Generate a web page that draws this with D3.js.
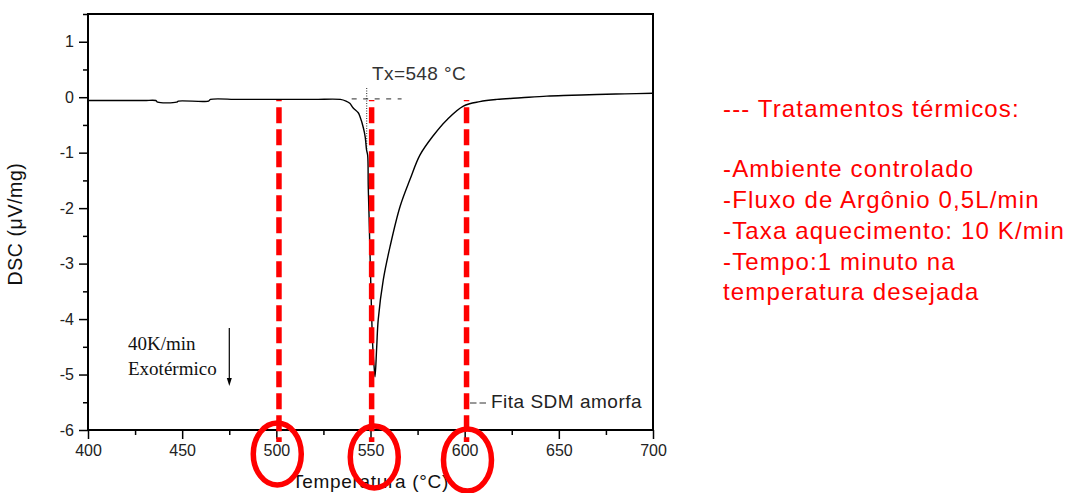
<!DOCTYPE html>
<html>
<head>
<meta charset="utf-8">
<script src="https://cdn.jsdelivr.net/npm/d3@7/dist/d3.min.js"></script>
<style>
  html, body { margin: 0; padding: 0; background: #fff; }
  svg { display: block; }
</style>
</head>
<body>
<svg id="chart" width="1073" height="493" font-family="Liberation Sans, Arial, sans-serif"></svg>
<script>
// DSC scan of the amorphous ribbon (temperature in °C, signal in µV/mg)
const temperature = [400, 410, 420, 430, 436, 437, 447, 448, 464, 465, 480, 500, 520, 534, 537, 539,
  540.7, 543.5, 544.4, 546.2, 547.2, 547.9, 548.5, 548.8, 549.2, 549.8, 550.5, 551.2, 551.9, 552.4,
  553.3, 554.1, 556.8, 560.4, 565.7, 571, 576.3, 583.4, 590.5, 599.3, 608, 617, 630, 643.6, 657,
  670.1, 685, 700];
const dsc = [-0.06, -0.06, -0.06, -0.06, -0.06, -0.09, -0.09, -0.07, -0.07, -0.04, -0.04, -0.04, -0.04, -0.04, -0.07, -0.11,
  -0.19, -0.28, -0.35, -0.55, -0.72, -0.95, -1.05, -1.6, -2.1, -2.9, -3.8, -4.5, -4.85, -5.04,
  -4.5, -4.01, -3.29, -2.69, -1.97, -1.48, -1.04, -0.69, -0.41, -0.16, -0.08, -0.04, -0.01, 0.02, 0.035,
  0.05, 0.06, 0.07];

const xTicks = [400, 450, 500, 550, 600, 650, 700];
const yTicks = [-6, -5, -4, -3, -2, -1, 0, 1];

// Heat-treatment temperatures marked on the curve
const treatmentTemps = [501.4, 550.6, 601.0];
const treatmentLabels = [500, 550, 600];
const onsetTemp = 548;

const notes = [
  "--- Tratamentos térmicos:",
  "",
  "-Ambiente controlado",
  "-Fluxo de Argônio 0,5L/min",
  "-Taxa aquecimento: 10 K/min",
  "-Tempo:1 minuto na",
  "temperatura desejada"
];

const svg = d3.select("#chart");
const W = 1073, H = 493;
svg.append("rect").attr("width", W).attr("height", H).attr("fill", "#fff");

const plotL = 88, plotR = 653, plotT = 14, plotB = 430;
const x = d3.scaleLinear().domain([400, 700]).range([plotL, plotR]);
const y = d3.scaleLinear().domain([-6, 1.5]).range([plotB, plotT]);

// minor ticks
const xMinor = d3.range(400, 701, 25).filter(v => !xTicks.includes(v));
const yMinor = d3.range(-6, 1.51, 0.5).filter(v => !yTicks.includes(v));

svg.append("g")
  .attr("transform", `translate(0,${plotB})`)
  .call(d3.axisBottom(x).tickValues(xMinor).tickSize(5).tickSizeOuter(0).tickFormat(""))
  .call(g => g.select(".domain").remove())
  .call(g => g.selectAll("line").attr("stroke", "#000").attr("stroke-width", 1.5));

svg.append("g")
  .attr("transform", `translate(${plotL},0)`)
  .call(d3.axisLeft(y).tickValues(yMinor).tickSize(5).tickSizeOuter(0).tickFormat(""))
  .call(g => g.select(".domain").remove())
  .call(g => g.selectAll("line").attr("stroke", "#000").attr("stroke-width", 1.5));

const xAxis = svg.append("g")
  .attr("transform", `translate(0,${plotB})`)
  .call(d3.axisBottom(x).tickValues(xTicks).tickSize(9).tickSizeOuter(0).tickPadding(6).tickFormat(d => String(d)));
xAxis.select(".domain").remove();
xAxis.selectAll("line").attr("stroke", "#000").attr("stroke-width", 1.5);
xAxis.selectAll("text").attr("font-size", 16).attr("fill", "#222")
  .attr("font-family", "Liberation Sans, Arial, sans-serif");

const yAxis = svg.append("g")
  .attr("transform", `translate(${plotL},0)`)
  .call(d3.axisLeft(y).tickValues(yTicks).tickSize(9).tickSizeOuter(0).tickPadding(5).tickFormat(d => String(d)));
yAxis.select(".domain").remove();
yAxis.selectAll("line").attr("stroke", "#000").attr("stroke-width", 1.5);
yAxis.selectAll("text").attr("font-size", 16).attr("fill", "#222")
  .attr("font-family", "Liberation Sans, Arial, sans-serif");

// plot frame
svg.append("rect")
  .attr("x", plotL).attr("y", plotT)
  .attr("width", plotR - plotL).attr("height", plotB - plotT)
  .attr("fill", "none").attr("stroke", "#000").attr("stroke-width", 2);

// axis titles
svg.append("text")
  .attr("x", (plotL + plotR) / 2).attr("y", 488)
  .attr("text-anchor", "middle").attr("font-size", 19).attr("letter-spacing", 0.7)
  .attr("fill", "#111")
  .text("Temperatura (°C)");

svg.append("text")
  .attr("transform", `translate(22,${(plotT + plotB) / 2 + 2}) rotate(-90)`)
  .attr("text-anchor", "middle").attr("font-size", 19.5).attr("letter-spacing", 0.6)
  .attr("fill", "#111")
  .text("DSC (μV/mg)");

// onset construction: baseline extension and vertical marker
svg.append("line")
  .attr("x1", x(540)).attr("x2", x(566.5))
  .attr("y1", y(-0.03)).attr("y2", y(-0.03))
  .attr("stroke", "#555").attr("stroke-width", 1.2).attr("stroke-dasharray", "5 6.5");

svg.append("line")
  .attr("x1", x(onsetTemp)).attr("x2", x(onsetTemp))
  .attr("y1", 88).attr("y2", y(-0.95))
  .attr("stroke", "#222").attr("stroke-width", 1).attr("stroke-dasharray", "1 1.5");

svg.append("text")
  .attr("x", 372).attr("y", 80)
  .attr("font-size", 19).attr("letter-spacing", 0.4).attr("fill", "#333")
  .text(`Tx=${onsetTemp} °C`);

// DSC curve
const pts = temperature.map((t, i) => [t, dsc[i]]);
svg.append("path")
  .datum(pts)
  .attr("fill", "none").attr("stroke", "#000").attr("stroke-width", 1.4)
  .attr("d", d3.line().curve(d3.curveCatmullRom.alpha(0.5)).x(d => x(d[0])).y(d => y(d[1])));

// treatment temperatures: red dashed verticals
svg.selectAll(".treat")
  .data(treatmentTemps)
  .join("line")
  .attr("class", "treat")
  .attr("x1", d => x(d)).attr("x2", d => x(d))
  .attr("y1", 100).attr("y2", 442)
  .attr("stroke", "#ff0000").attr("stroke-width", 5.5)
  .attr("stroke-dasharray", "16 6").attr("stroke-dashoffset", 14.7);

// circles around the highlighted tick labels
const circleOffset = [0.5, 2, 1.5];
svg.selectAll(".ring")
  .data(treatmentLabels)
  .join("ellipse")
  .attr("class", "ring")
  .attr("cx", (d, i) => x(d + circleOffset[i]))
  .attr("cy", (d, i) => plotB + 24 + i * 3)
  .attr("rx", 24).attr("ry", 31)
  .attr("fill", "none").attr("stroke", "#ff0000").attr("stroke-width", 5.5);

// heating rate / exothermic direction note
const serif = "Liberation Serif, Times New Roman, serif";
svg.append("text").attr("x", 128).attr("y", 350)
  .attr("font-family", serif).attr("font-size", 19).attr("fill", "#111").text("40K/min");
svg.append("text").attr("x", 128).attr("y", 375)
  .attr("font-family", serif).attr("font-size", 19).attr("fill", "#111").text("Exotérmico");
svg.append("line").attr("x1", 229.3).attr("x2", 229.3).attr("y1", 328).attr("y2", 380)
  .attr("stroke", "#000").attr("stroke-width", 1.2);
svg.append("path")
  .attr("d", "M226.8,378 L231.8,378 L229.3,386 Z")
  .attr("fill", "#000");

// legend
svg.append("line").attr("x1", 470).attr("x2", 487).attr("y1", 403).attr("y2", 403)
  .attr("stroke", "#333").attr("stroke-width", 1).attr("stroke-dasharray", "6.5 3");
svg.append("text").attr("x", 491).attr("y", 408)
  .attr("font-size", 19).attr("letter-spacing", 0.5).attr("fill", "#222")
  .text("Fita SDM amorfa");

// side notes
const noteY = [116.7, 146.7, 176.7, 208.3, 239.3, 270, 300];
svg.append("g").selectAll("text")
  .data(notes)
  .join("text")
  .attr("x", 723).attr("y", (d, i) => noteY[i])
  .attr("font-size", 24).attr("letter-spacing", 1.15).attr("fill", "#ff0000")
  .text(d => d);
</script>
</body>
</html>
